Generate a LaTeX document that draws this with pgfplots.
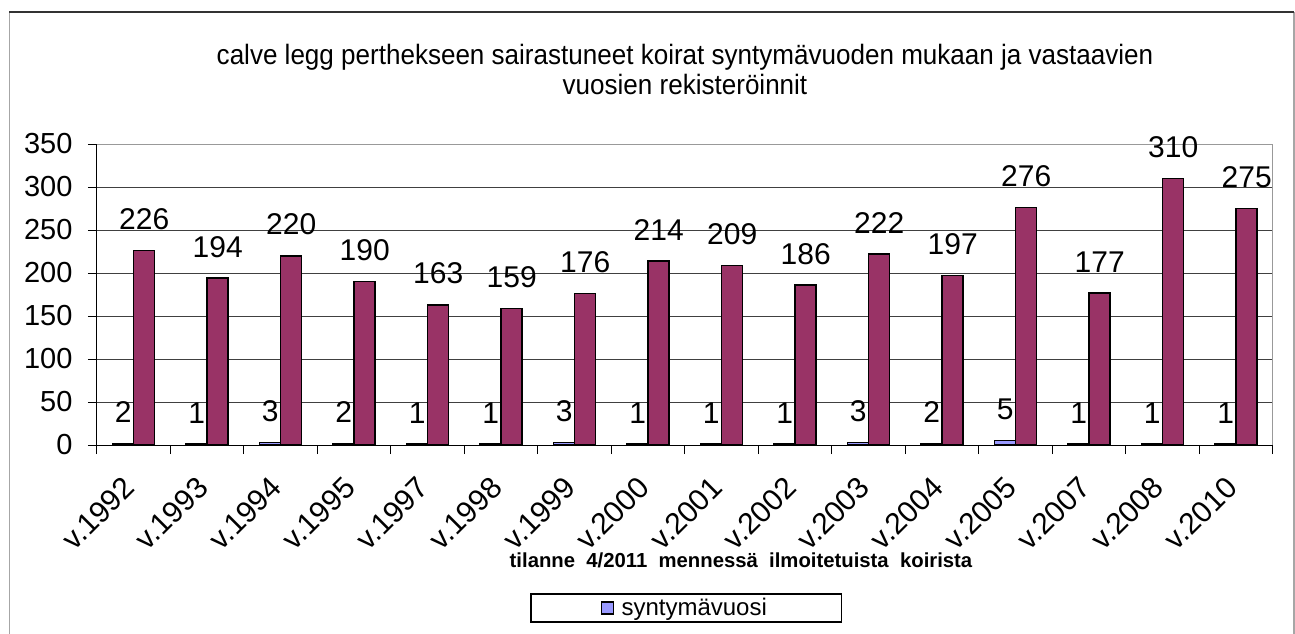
\documentclass[border=0pt]{standalone}
\usepackage{fontspec}
\setmainfont{Liberation Sans}
\newfontfamily\titlefont[FakeStretch=0.93]{Liberation Sans}
\usepackage{pgfplots}
\pgfplotsset{compat=1.18}
\definecolor{regbar}{HTML}{993366}
\definecolor{syntbar}{HTML}{9999FF}

\begin{document}
\begin{tikzpicture}[x=1pt,y=1pt]
% page = 1295 x 633 (1pt per pixel), origin at bottom left of plot area
\useasboundingbox (-97,-188) rectangle (1198,445);
\draw[black!35, line width=1.2pt] (-87.5,-190) -- (-87.5,433);
\draw[black!35, line width=1.2pt] (1197,-190) -- (1197,433);
\draw[black!80, line width=1.6pt] (-87.5,433) -- (1197,433);

\begin{axis}[
    at={(0,0)}, anchor=south west,
    scale only axis,
    width=1176pt, height=301pt,
    xmin=-0.5, xmax=15.5,
    ymin=0, ymax=350,
    ytick={0,50,...,350},
    xtick={-0.5,0.5,...,15.5},
    xticklabels={},
    extra x ticks={0,1,...,15},
    extra x tick labels={v.1992,v.1993,v.1994,v.1995,v.1997,v.1998,v.1999,v.2000,
        v.2001,v.2002,v.2003,v.2004,v.2005,v.2007,v.2008,v.2010},
    extra x tick style={major tick length=0pt,
        xticklabel style={xshift=-2pt, yshift=-35pt, rotate=45, anchor=east,
            font=\fontsize{30}{32}\selectfont}},
    axis lines=left,
    axis line style={-, black, line width=1pt},
    tick align=outside,
    major tick length=9pt,
    tick style={black, line width=1pt},
    ymajorgrids,
    grid style={black!75, line width=0.9pt},
    yticklabel style={font=\fontsize{29}{31}\selectfont, xshift=-12pt},
    /pgf/number format/assume math mode=true,
    ybar, bar width=21pt,
    clip=false,
    legend style={at={(0.5,-0.5415)}, anchor=center, draw=none, fill=none,
        font=\fontsize{24}{26}\selectfont, inner sep=0pt},
    legend image code/.code={\draw[#1, line width=1.4pt] (0pt,-6pt) rectangle (12pt,6pt);
        \path (17pt,0pt);},
    nodes near coords,
    every node near coord/.append style={font=\fontsize{30}{32}\selectfont,
        black, anchor=south, inner sep=0pt, yshift=20pt},
]
\draw[black!40, line width=1pt] (rel axis cs:0,1) -- (rel axis cs:1,1) -- (rel axis cs:1,0);

\addplot[bar shift=-10.5pt, fill=syntbar, draw=black, line width=1.5pt]
    coordinates {(0,2) (1,1) (2,3) (3,2) (4,1) (5,1) (6,3) (7,1)
                 (8,1) (9,1) (10,3) (11,2) (12,5) (13,1) (14,1) (15,1)};
\addlegendentry{syntymävuosi}

\addplot[bar shift=10.5pt, fill=regbar, draw=black, line width=1.5pt, forget plot]
    coordinates {(0,226) (1,194) (2,220) (3,190) (4,163) (5,159) (6,176) (7,214)
                 (8,209) (9,186) (10,222) (11,197) (12,276) (13,177) (14,310) (15,275)};

\draw[black, line width=1.2pt] (axis description cs:0.369,-0.495) rectangle (axis description cs:0.633,-0.588);
\end{axis}

\node[font=\titlefont\fontsize{28}{30}\selectfont, align=center] at (588,376)
    {calve legg perthekseen sairastuneet koirat syntymävuoden mukaan ja vastaavien\\vuosien rekisteröinnit};
\node[font=\bfseries\fontsize{20.3}{22}\selectfont] at (644,-115)
    {tilanne\ \ 4/2011\ \ mennessä\ \ ilmoitetuista\ \ koirista};
\end{tikzpicture}
\end{document}
